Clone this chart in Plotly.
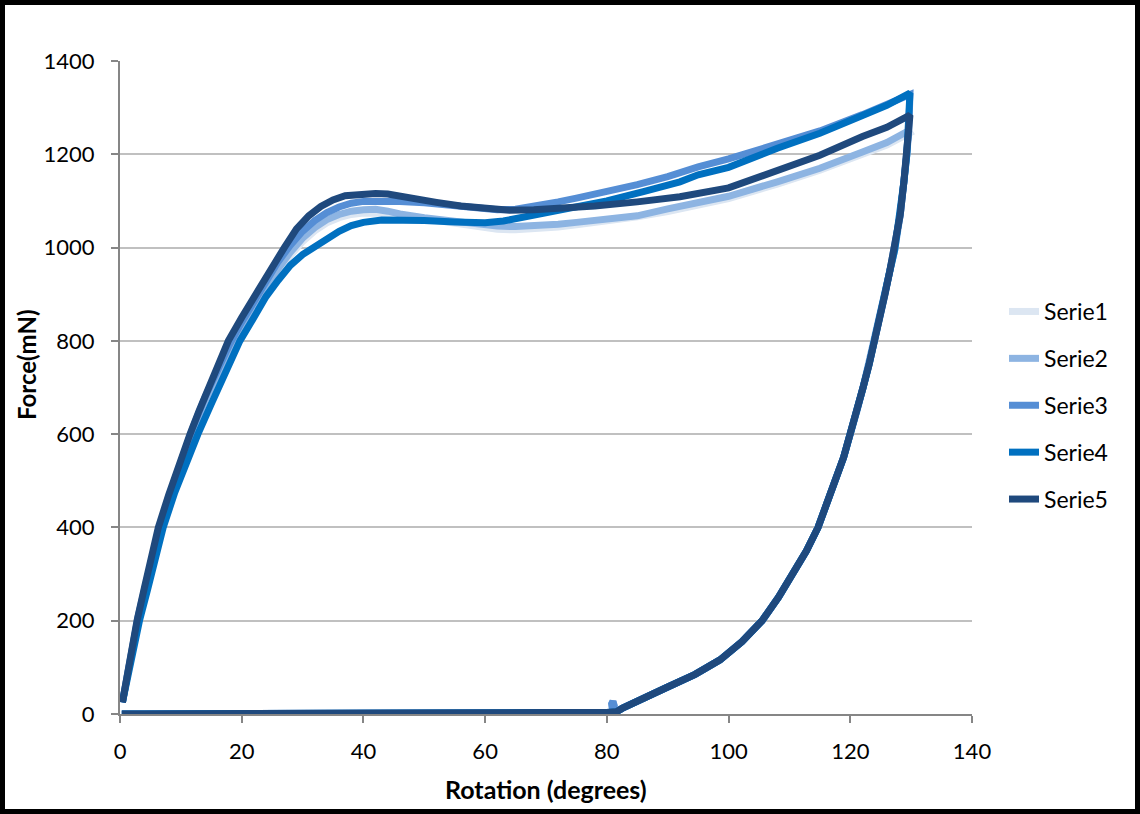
import plotly.graph_objects as go

# ---------------- data ----------------
names = ["Serie1", "Serie2", "Serie3", "Serie4", "Serie5"]
colors = ["#DCE6F2", "#8DB4E2", "#558ED5", "#0070C0", "#1F497D"]

# loading branches (Rotation degrees, Force mN)
x_load_123 = [0.4, 1, 2, 3, 4, 5, 6.5, 8, 10, 12, 14, 16, 18, 20, 22, 24, 26, 28, 30, 32, 34, 36, 38, 40,
              42, 44, 46, 50, 55, 60, 62, 65, 68, 72, 75, 80, 85, 90, 95, 100, 108, 115, 122, 126, 129.8]
f_load_1 = [25, 68, 145, 205, 258, 316, 390, 455, 535, 605, 667, 725, 777, 822, 866, 908, 948, 983, 1013, 1036,
            1053, 1064, 1071, 1074, 1075, 1073, 1069, 1061, 1051, 1042, 1039, 1038, 1040, 1044, 1049, 1057, 1066,
            1077, 1092, 1105, 1136, 1166, 1200, 1220, 1246]
f_load_2 = [25, 68, 145, 208, 262, 320, 395, 460, 540, 610, 672, 730, 782, 828, 872, 915, 955, 990, 1020, 1043,
            1060, 1071, 1078, 1081, 1082, 1078, 1072, 1064, 1055, 1048, 1046, 1045, 1046, 1050, 1054, 1060, 1068,
            1083, 1096, 1110, 1141, 1170, 1205, 1225, 1252]
f_load_3 = [25, 68, 145, 210, 265, 325, 400, 465, 545, 615, 680, 740, 792, 840, 885, 930, 970, 1005, 1035, 1058,
            1075, 1087, 1095, 1099, 1100, 1100, 1099, 1096, 1090, 1083, 1081, 1082, 1088, 1098, 1106, 1120, 1135,
            1152, 1173, 1190, 1220, 1250, 1285, 1305, 1328]
x_load_4 = [0.4, 1, 2, 3.2, 4.5, 5.5, 7.1, 9, 11, 12.8, 15, 17, 19.7, 22, 24, 26, 28, 30, 32, 34, 36, 38, 40, 43,
            46, 50, 55, 60, 63, 66, 69, 72, 76, 80, 86, 92, 95, 100, 108, 115, 122, 126, 129.8]
f_load_4 = [25, 65, 135, 200, 265, 320, 400, 475, 545, 600, 665, 725, 800, 850, 895, 930, 962, 985, 1003, 1020,
            1035, 1047, 1054, 1059, 1060, 1058, 1055, 1053, 1057, 1065, 1072, 1080, 1090, 1100, 1120, 1141, 1156,
            1172, 1213, 1245, 1283, 1305, 1331]
x_load_5 = [0.4, 1, 2, 2.8, 4, 5, 6.3, 8, 9.5, 11.5, 13, 15, 17.8, 20, 22, 24, 27, 29, 31, 33, 35, 37, 40, 42,
            44, 46, 48, 52, 56, 60, 64, 68, 72, 78, 85, 92, 100, 108, 115, 122, 126, 129.8]
f_load_5 = [25, 70, 150, 200, 270, 330, 400, 470, 530, 600, 650, 710, 800, 850, 895, 940, 1000, 1040, 1068, 1088,
            1102, 1111, 1115, 1116, 1115, 1110, 1105, 1097, 1089, 1083, 1080, 1081, 1084, 1089, 1098, 1109, 1128,
            1164, 1198, 1238, 1258, 1284]

# unloading branch (shared by all series)
x_unload = [129.6, 129.3, 128.8, 128.2, 127.3, 126.5, 125.7, 124.9, 124.1, 123.1, 122.1, 121.1, 120.1, 118.9,
            117.5, 116.2, 114.7, 112.8, 110.6, 108.2, 105.5, 102.2, 98.6, 94.5, 90, 86.5, 84, 82.5, 81.6, 81]
f_unload = [1250, 1200, 1140, 1070, 995, 950, 900, 850, 800, 750, 700, 650, 600, 550, 500, 450, 400, 350, 300,
            250, 200, 155, 116, 85, 58, 38, 22, 12, 5, 3]
# small loop near 81 degrees (Serie2 / Serie3)
x_spike = [81.2, 81.0, 80.8, 80.9, 81.0]
f_spike = [18, 27, 22, 10, 4]
# return to zero
x_zero = [80, 70, 60, 50, 40, 30, 20, 10, 4, 0.3]
f_zero = [3, 3, 2, 2, 1, 1, 0, 0, 0, 0]

loads = [(x_load_123, f_load_1), (x_load_123, f_load_2), (x_load_123, f_load_3),
         (x_load_4, f_load_4), (x_load_5, f_load_5)]
has_spike = [False, True, True, False, False]

x_ticks = [0, 20, 40, 60, 80, 100, 120, 140]
y_ticks = [0, 200, 400, 600, 800, 1000, 1200, 1400]

# ---------------- figure ----------------
FONT = "Lato"
fig = go.Figure()
for i, name in enumerate(names):
    lx, lf = loads[i]
    xs = list(lx) + x_unload + (x_spike if has_spike[i] else []) + x_zero
    ys = list(lf) + f_unload + (f_spike if has_spike[i] else []) + f_zero
    fig.add_trace(go.Scatter(
        x=xs, y=ys, mode="lines", name=name, legendgroup=name,
        line=dict(color=colors[i], width=7),
    ))

W, H = 1140, 814
L, R, T, B = 120, 168, 61, 100
pw, ph = W - L - R, H - T - B

def px(xp):
    return (xp - L) / pw

def py(yp):
    return (H - B - yp) / ph

fig.update_layout(
    width=W, height=H,
    margin=dict(l=L, r=R, t=T, b=B, autoexpand=False),
    paper_bgcolor="white", plot_bgcolor="white",
    font=dict(family=FONT, size=22, color="#000000"),
    showlegend=True,
    legend=dict(x=px(1004), y=py(290), xanchor="left", yanchor="top",
                font=dict(family=FONT, size=23, color="#000000"),
                tracegroupgap=14, bgcolor="rgba(0,0,0,0)"),
    xaxis=dict(range=[0, 140], tickvals=x_ticks, ticktext=[str(v) for v in x_ticks],
               showgrid=False, zeroline=False,
               showline=True, linecolor="#868686", linewidth=2,
               ticks="outside", ticklen=7, tickwidth=2, tickcolor="#868686",
               ticklabelstandoff=10, tickfont=dict(family=FONT, size=22, color="#000000")),
    yaxis=dict(range=[0, 1400], tickvals=y_ticks, ticktext=[str(v) for v in y_ticks],
               showgrid=True, gridcolor="#C0C0C0", gridwidth=2, zeroline=False,
               showline=True, linecolor="#868686", linewidth=2,
               ticks="outside", ticklen=7, tickwidth=2, tickcolor="#868686",
               ticklabelstandoff=12, tickfont=dict(family=FONT, size=22, color="#000000")),
    annotations=[
        dict(text="<b>Rotation (degrees)</b>", xref="paper", yref="paper",
             x=px(546), y=py(789), xanchor="center", yanchor="middle", showarrow=False,
             font=dict(family=FONT, size=25, color="#000000")),
        dict(text="<b>Force(mN)</b>", xref="paper", yref="paper", textangle=-90,
             x=px(26), y=py(365), xanchor="center", yanchor="middle", showarrow=False,
             font=dict(family=FONT, size=24, color="#000000")),
    ],
    shapes=[dict(type="rect", xref="paper", yref="paper",
                 x0=px(2.5), x1=px(1137.5), y0=py(811.5), y1=py(2.5),
                 line=dict(color="#000000", width=5), fillcolor="rgba(0,0,0,0)", layer="above")],
)

fig.write_html("out.html", config={"displayModeBar": False},
               post_script="document.body.style.margin='0';document.body.style.overflow='hidden';")
